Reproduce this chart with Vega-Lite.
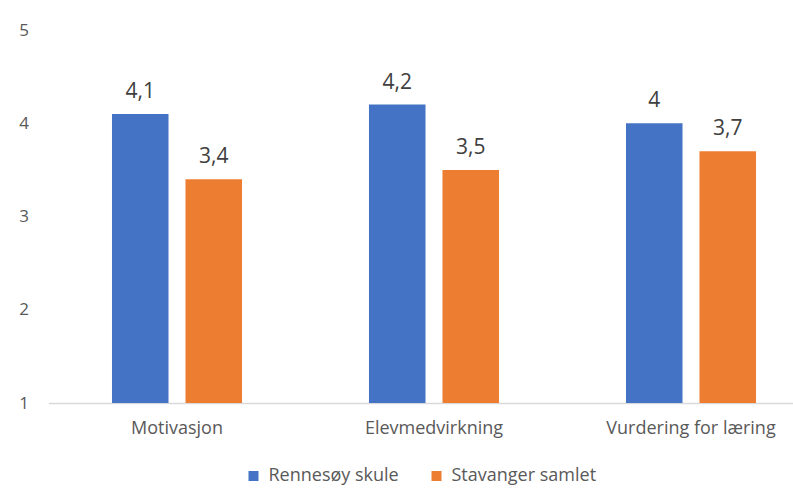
{
  "$schema": "https://vega.github.io/schema/vega-lite/v6.json",
  "autosize": {"type": "none"},
  "width": 744.5,
  "height": 373,
  "padding": {"left": 48.5, "top": 30, "right": 0, "bottom": 88},
  "background": "white",
  "config": {
    "view": {"stroke": null},
    "font": "Open Sans",
    "legend": {"layout": {"bottom": {"anchor": "middle"}}},
    "locale": {"number": {"decimal": ",", "thousands": " ", "grouping": [3], "currency": ["", " kr"]}}
  },
  "data": {
    "values": [
      {"kategori": "Motivasjon", "serie": "Rennesøy skule", "verdi": 4.1},
      {"kategori": "Motivasjon", "serie": "Stavanger samlet", "verdi": 3.4},
      {"kategori": "Elevmedvirkning", "serie": "Rennesøy skule", "verdi": 4.2},
      {"kategori": "Elevmedvirkning", "serie": "Stavanger samlet", "verdi": 3.5},
      {"kategori": "Vurdering for læring", "serie": "Rennesøy skule", "verdi": 4.0},
      {"kategori": "Vurdering for læring", "serie": "Stavanger samlet", "verdi": 3.7}
    ]
  },
  "encoding": {
    "x": {
      "field": "kategori", "type": "nominal", "sort": null,
      "scale": {"range": [0, 771], "paddingInner": 0.494, "paddingOuter": 0.247},
      "axis": {"title": null, "labelAngle": 0, "ticks": false, "domainColor": "#d9d9d9", "domainWidth": 1.5, "labelColor": "#595959", "labelFontSize": 18, "labelPadding": 16}
    },
    "xOffset": {"field": "serie", "type": "nominal", "scale": {"paddingInner": 0.231, "paddingOuter": 0}},
    "y": {
      "field": "verdi", "type": "quantitative",
      "scale": {"domain": [1, 5], "zero": false, "nice": false},
      "axis": {"title": null, "values": [1, 2, 3, 4, 5], "domain": false, "ticks": false, "grid": false, "labelColor": "#595959", "labelFontSize": 17, "labelPadding": 20, "format": "d"}
    }
  },
  "layer": [
    {
      "mark": {"type": "bar"},
      "encoding": {
        "y2": {"datum": 1},
        "color": {
          "field": "serie", "type": "nominal",
          "scale": {"range": ["#4472c4", "#ed7d31"]},
          "legend": {"title": null, "orient": "bottom", "direction": "horizontal", "symbolType": "square", "symbolSize": 100, "symbolStrokeWidth": 0, "labelColor": "#595959", "labelFontSize": 18, "labelOffset": 6, "columnPadding": 28, "offset": 30}
        }
      }
    },
    {
      "mark": {"type": "text", "baseline": "alphabetic", "dy": -16, "fontSize": 21, "color": "#404040"},
      "encoding": {
        "text": {"field": "verdi", "type": "quantitative", "format": ".1~f"}
      }
    }
  ]
}
